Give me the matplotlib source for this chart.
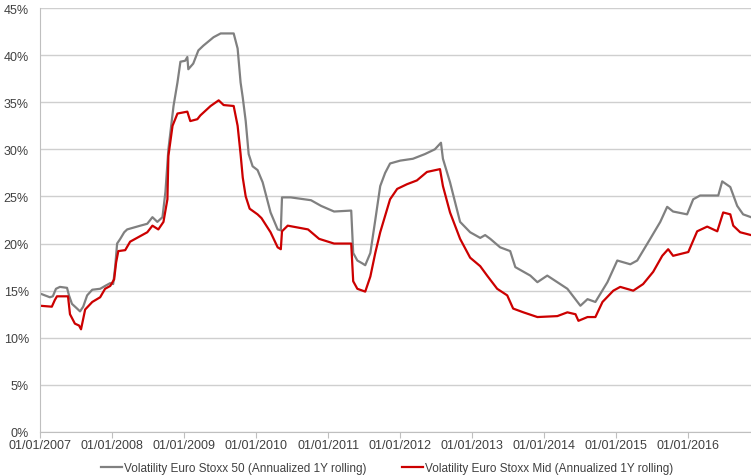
import pandas as pd
import matplotlib.pyplot as plt
import matplotlib.dates as mdates
from matplotlib.ticker import MultipleLocator, FuncFormatter

plt.rcParams["font.family"] = ["Liberation Sans", "DejaVu Sans"]

# Volatility Euro Stoxx 50 (annualized 1Y rolling), in %
fechas_50 = [
    "2007-01-01", "2007-01-26", "2007-02-20", "2007-03-07", "2007-03-23", "2007-04-12",
    "2007-05-18", "2007-05-28", "2007-06-12", "2007-07-08", "2007-07-23", "2007-08-08",
    "2007-08-28", "2007-09-23", "2007-11-02", "2007-11-27", "2007-12-23", "2008-01-07",
    "2008-01-17", "2008-01-27", "2008-02-12", "2008-03-03", "2008-03-18", "2008-05-24",
    "2008-06-28", "2008-07-24", "2008-08-18", "2008-09-13", "2008-09-28", "2008-10-13",
    "2008-11-08", "2008-11-28", "2008-12-13", "2009-01-06", "2009-01-17", "2009-01-22",
    "2009-02-16", "2009-03-14", "2009-04-08", "2009-05-30", "2009-07-05", "2009-09-09",
    "2009-09-29", "2009-10-14", "2009-10-25", "2009-11-09", "2009-11-24", "2009-12-14",
    "2010-01-08", "2010-02-03", "2010-03-15", "2010-04-20", "2010-05-06", "2010-05-12",
    "2010-06-25", "2010-10-06", "2010-11-26", "2011-01-31", "2011-04-28", "2011-05-08",
    "2011-05-29", "2011-06-23", "2011-07-08", "2011-08-03", "2011-08-28", "2011-09-22",
    "2011-10-17", "2011-11-11", "2012-01-01", "2012-03-06", "2012-05-06", "2012-06-25",
    "2012-07-26", "2012-08-05", "2012-09-10", "2012-10-31", "2012-12-21", "2013-02-10",
    "2013-03-07", "2013-04-02", "2013-05-22", "2013-07-12", "2013-08-07", "2013-10-22",
    "2013-11-27", "2014-01-16", "2014-03-08", "2014-04-28", "2014-07-03", "2014-08-08",
    "2014-09-17", "2014-11-17", "2015-01-06", "2015-03-13", "2015-04-17", "2015-06-22",
    "2015-08-12", "2015-09-16", "2015-10-16", "2015-12-26", "2016-01-26", "2016-03-01",
    "2016-06-01", "2016-06-21", "2016-08-01", "2016-09-05", "2016-10-05", "2016-11-14",
]
vol_50 = [
    14.7, 14.5, 14.3, 14.4, 15.2, 15.4,
    15.3, 14.5, 13.6, 13.1, 12.8, 13.3,
    14.5, 15.1, 15.2, 15.5, 15.8, 15.7,
    17.5, 20.0, 20.5, 21.2, 21.5, 21.9,
    22.1, 22.8, 22.3, 22.8, 25.5, 30.0,
    34.6, 37.1, 39.3, 39.4, 39.8, 38.5,
    39.1, 40.5, 41.0, 41.9, 42.3, 42.3,
    40.7, 37.1, 35.5, 33.0, 29.5, 28.2,
    27.8, 26.5, 23.3, 21.5, 21.4, 24.9,
    24.9, 24.6, 24.0, 23.4, 23.5, 19.0,
    18.2, 17.9, 17.7, 19.0, 22.5, 26.1,
    27.5, 28.5, 28.8, 29.0, 29.5, 30.0,
    30.7, 29.0, 26.5, 22.3, 21.2, 20.6,
    20.9, 20.5, 19.6, 19.2, 17.5, 16.6,
    15.9, 16.6, 15.9, 15.2, 13.4, 14.1,
    13.8, 15.9, 18.2, 17.8, 18.2, 20.5,
    22.3, 23.9, 23.4, 23.1, 24.7, 25.1,
    25.1, 26.6, 26.0, 24.0, 23.1, 22.8,
]

# Volatility Euro Stoxx Mid (annualized 1Y rolling), in %
fechas_mid = [
    "2007-01-01", "2007-03-02", "2007-03-17", "2007-03-28", "2007-05-23", "2007-06-02",
    "2007-06-27", "2007-07-18", "2007-07-28", "2007-08-18", "2007-09-23", "2007-11-02",
    "2007-11-27", "2007-12-23", "2008-01-12", "2008-01-22", "2008-02-02", "2008-03-08",
    "2008-04-02", "2008-06-28", "2008-07-24", "2008-08-23", "2008-09-18", "2008-10-08",
    "2008-10-13", "2008-11-03", "2008-11-28", "2009-01-17", "2009-02-01", "2009-03-09",
    "2009-03-24", "2009-05-15", "2009-06-25", "2009-07-20", "2009-09-09", "2009-09-29",
    "2009-10-14", "2009-10-25", "2009-11-09", "2009-11-29", "2010-01-08", "2010-01-28",
    "2010-03-15", "2010-04-20", "2010-05-06", "2010-05-12", "2010-06-10", "2010-09-21",
    "2010-11-16", "2011-01-31", "2011-04-28", "2011-05-08", "2011-05-29", "2011-07-08",
    "2011-08-03", "2011-08-28", "2011-09-22", "2011-11-11", "2011-12-17", "2012-02-05",
    "2012-03-26", "2012-05-16", "2012-07-21", "2012-08-05", "2012-09-10", "2012-10-31",
    "2012-12-21", "2013-02-10", "2013-03-17", "2013-05-07", "2013-06-27", "2013-07-27",
    "2013-09-17", "2013-11-27", "2014-03-08", "2014-04-28", "2014-06-08", "2014-06-23",
    "2014-08-08", "2014-09-17", "2014-10-23", "2014-12-17", "2015-01-21", "2015-03-28",
    "2015-05-17", "2015-07-07", "2015-08-22", "2015-09-21", "2015-10-16", "2016-01-01",
    "2016-02-15", "2016-04-06", "2016-05-27", "2016-06-26", "2016-08-01", "2016-08-16",
    "2016-09-20", "2016-11-14",
]
vol_mid = [
    13.4, 13.3, 14.0, 14.4, 14.4, 12.5,
    11.5, 11.3, 10.9, 13.0, 13.8, 14.3,
    15.2, 15.5, 16.2, 18.0, 19.2, 19.3,
    20.2, 21.2, 21.9, 21.5, 22.3, 24.7,
    29.3, 32.5, 33.8, 34.0, 33.0, 33.2,
    33.6, 34.6, 35.2, 34.7, 34.6, 32.5,
    29.5, 27.0, 25.0, 23.7, 23.1, 22.7,
    21.2, 19.6, 19.4, 21.3, 21.9, 21.5,
    20.5, 20.0, 20.0, 16.0, 15.2, 14.9,
    16.5, 19.0, 21.2, 24.7, 25.8, 26.3,
    26.7, 27.6, 27.9, 26.1, 23.3, 20.5,
    18.5, 17.6, 16.6, 15.2, 14.5, 13.1,
    12.7, 12.2, 12.3, 12.7, 12.5, 11.8,
    12.2, 12.2, 13.8, 15.0, 15.4, 15.0,
    15.7, 17.0, 18.7, 19.4, 18.7, 19.1,
    21.3, 21.8, 21.3, 23.3, 23.1, 21.9,
    21.2, 20.9,
]

etiqueta_50 = "Volatility Euro Stoxx 50 (Annualized 1Y rolling)"
etiqueta_mid = "Volatility Euro Stoxx Mid (Annualized 1Y rolling)"

fig = plt.figure(figsize=(7.51, 4.77), dpi=100)
ax = fig.add_axes([40 / 751, 44 / 477, 711 / 751, 424 / 477])

ax.plot(pd.to_datetime(fechas_50), vol_50, color="#808080", linewidth=1.6, label=etiqueta_50)
ax.plot(pd.to_datetime(fechas_mid), vol_mid, color="#CC0000", linewidth=1.6, label=etiqueta_mid)

ax.set_ylim(0, 45)
ax.set_xlim(pd.Timestamp("2007-01-01"), pd.Timestamp("2016-11-14"))
ax.yaxis.set_major_locator(MultipleLocator(5))
ax.yaxis.set_major_formatter(FuncFormatter(lambda v, p: f"{v:.0f}%"))
ax.xaxis.set_major_locator(mdates.YearLocator())
ax.xaxis.set_major_formatter(mdates.DateFormatter("%d/%m/%Y"))

ax.grid(axis="y", color="#CFCFCF", linewidth=1)
ax.set_axisbelow(True)
for lado in ["top", "right"]:
    ax.spines[lado].set_visible(False)
ax.spines["left"].set_color("#BFBFBF")
ax.spines["bottom"].set_color("#BFBFBF")
ax.tick_params(axis="y", length=0, labelsize=9, colors="#404040", pad=8)
ax.tick_params(axis="x", length=4, color="#BFBFBF", labelsize=9, labelcolor="#404040", pad=1)

fig.legend(loc="lower center", bbox_to_anchor=(0.515, -0.018), ncol=2, frameon=False,
           fontsize=8.5, handlelength=1.8, handletextpad=0.15, columnspacing=3,
           labelcolor="#404040")

plt.savefig("out.png", dpi=100)
print("Grafica out.png creada")
